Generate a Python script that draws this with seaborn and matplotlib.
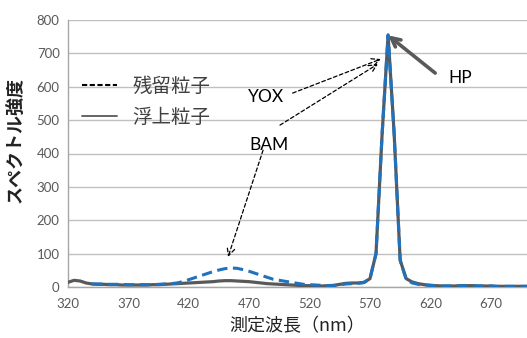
import matplotlib
matplotlib.use("Agg")
import matplotlib.pyplot as plt
import seaborn as sns
import pandas as pd
import numpy as np
from matplotlib.lines import Line2D

# ---- data ----
wavelength = list(range(320, 701, 5))
floating = [14, 20, 18, 12, 9, 8, 8, 7, 7, 6, 6, 6, 6, 6, 7, 7, 8, 9, 10, 11,
            12, 13, 14, 15, 16, 18, 19, 19, 18, 17, 16, 14, 12, 10, 9, 8, 7, 6, 5, 4,
            4, 3, 3, 4, 5, 8, 11, 12, 12, 14, 25, 100, 455, 755, 460, 80, 25, 15, 10, 7,
            5, 4, 3, 3, 3, 4, 4, 4, 3, 3, 3, 2, 2, 2, 2, 2, 2]
wavelength_res = list(range(340, 701, 5))
residual = [9, 9, 9, 8, 8, 8, 7, 7, 7, 7, 7, 8, 9, 10, 12, 16, 22, 28, 34, 40,
            46, 51, 55, 57, 56, 52, 47, 41, 35, 29, 23, 20, 17, 14, 11, 8, 7, 6, 5, 4,
            4, 7, 9, 10, 11, 13, 25, 100, 455, 755, 460, 80, 22, 12, 8, 6, 5, 4, 3, 3,
            3, 4, 4, 4, 3, 3, 3, 2, 2, 2, 2, 2, 2]
x_ticks = [320, 370, 420, 470, 520, 570, 620, 670]
y_ticks = [0, 100, 200, 300, 400, 500, 600, 700, 800]
legend_labels = ["残留粒子", "浮上粒子"]

df_f = pd.DataFrame({"wl": wavelength, "val": floating})
df_r = pd.DataFrame({"wl": wavelength_res, "val": residual})

sns.set_style("white")
JP = ["Noto Sans CJK JP", "DejaVu Sans"]
plt.rcParams["font.family"] = ["Lato", "Noto Sans CJK JP", "DejaVu Sans"]

fig = plt.figure(figsize=(5.27, 3.38), dpi=100)
ax = fig.add_axes([68/527, 51/338, 459/527, 267/338])

gray = "#595959"
blue = "#1f72bd"
sns.lineplot(data=df_f, x="wl", y="val", ax=ax, color=gray, lw=2.3, legend=False, zorder=3)
sns.lineplot(data=df_r, x="wl", y="val", ax=ax, color=blue, lw=2.2,
             linestyle=(0, (3.4, 1.8)), legend=False, zorder=4)

ax.set_xlim(320, 700)
ax.set_ylim(0, 800)
ax.set_xticks(x_ticks)
ax.set_yticks(y_ticks)
ax.yaxis.grid(True, color="#c0c0c0", lw=1)
ax.xaxis.grid(False)
ax.set_axisbelow(True)
for s in ["top", "right"]:
    ax.spines[s].set_visible(False)
for s in ["left", "bottom"]:
    ax.spines[s].set_color("#a6a6a6")
    ax.spines[s].set_linewidth(1)
ax.tick_params(axis="x", direction="out", length=4, color="#a6a6a6", labelsize=9.5,
               labelcolor=gray, pad=4)
ax.tick_params(axis="y", direction="out", length=4, color="#a6a6a6", labelsize=9.5,
               labelcolor=gray, pad=2)

ax.set_xlabel("測定波長（nm）", family=JP, fontsize=13, color="#222222", labelpad=5)
ax.set_ylabel("スペクトル強度", family=JP, fontsize=13, fontweight="bold", color="#222222")
ax.yaxis.set_label_coords(-0.094, 0.55)

# legend
handles = [Line2D([0], [0], color="black", lw=1.5, linestyle=(0, (2.5, 1.2))),
           Line2D([0], [0], color=gray, lw=1.3)]
leg = ax.legend(handles, legend_labels, loc="upper left", bbox_to_anchor=(0.03, 0.79),
                frameon=False, borderpad=0, borderaxespad=0, handlelength=1.8,
                handletextpad=0.8, labelspacing=0.5, prop={"family": JP, "size": 14})
for t in leg.get_texts():
    t.set_color("#404040")

# annotations
ax.text(484, 569, "YOX", fontsize=12.5, ha="center", va="center", color="black")
ax.text(486, 425, "BAM", fontsize=12.5, ha="center", va="center", color="black")
ax.text(645, 626, "HP", fontsize=12.5, ha="center", va="center", color="black")
dash_arrow = dict(arrowstyle="->", color="black", lw=0.9, linestyle=(0, (3, 2)),
                  shrinkA=0, shrinkB=0, mutation_scale=14)
ax.annotate("", xy=(579, 683), xytext=(506, 581), arrowprops=dash_arrow)
ax.annotate("", xy=(576.5, 668), xytext=(495.5, 485), arrowprops=dash_arrow)
ax.annotate("", xy=(452.5, 90), xytext=(481.5, 410), arrowprops=dash_arrow)
ax.annotate("", xy=(585, 754), xytext=(624, 641),
            arrowprops=dict(arrowstyle="->", color=gray, lw=2.6, shrinkA=0, shrinkB=0,
                            mutation_scale=16))

fig.savefig("out.png", dpi=100)
